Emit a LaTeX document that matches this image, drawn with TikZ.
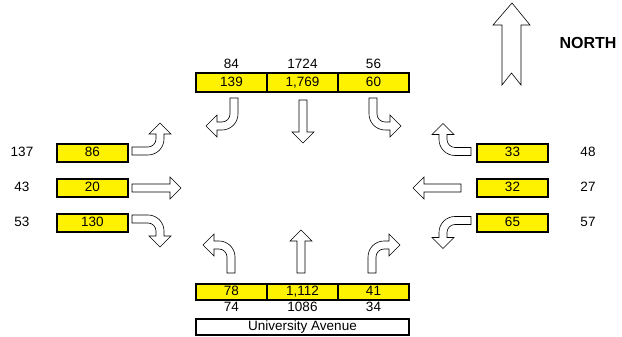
\documentclass[tikz,border=0pt]{standalone}
\usepackage{fontspec}
\setmainfont{Liberation Sans}
\begin{document}
\begin{tikzpicture}[x=1pt,y=1pt,
    cnt/.style={draw, line width=1.4pt, fill=yellow, minimum width=71pt, minimum height=18pt,
      inner sep=0pt, text height=10pt, text depth=2pt, font=\fontsize{13.5}{14}\selectfont},
    vol/.style={inner sep=0pt, text height=10pt, text depth=2pt, font=\fontsize{13.5}{14}\selectfont},
    blk/.style={draw=black, line width=0.6pt, fill=white},
    turnarrow/.pic={
      \draw [blk] (-4,0) -- (-4,16) arc[start angle=180, end angle=90, radius=16]
        -- (17,32) -- (17,39) -- (28,28) -- (17,17) -- (17,24) -- (12,24)
        arc[start angle=90, end angle=180, radius=8] -- (4,0) -- cycle;
    },
    thruarrow/.pic={
      \draw [blk] (-4,0) -- (-4,#1-11) -- (-11,#1-11) -- (0,#1) -- (11,#1-11) -- (4,#1-11) -- (4,0) -- cycle;
    }]
    \useasboundingbox (0,0) rectangle (622,337);
    % north leg
    \node [cnt, minimum height=19pt] (nl) at (231.5,254.5) {139};
    \node [cnt, minimum height=19pt] (nt) at (302.5,254.5) {1,769};
    \node [cnt, minimum height=19pt] (nr) at (373.5,254.5) {60};
    \node [vol] (nlv) at (231.5,272) {84};
    \node [vol] (ntv) at (302.5,272) {1724};
    \node [vol] (nrv) at (373.5,272) {56};
    \pic [rotate=180] at (234,239) {turnarrow};
    \pic [rotate=180] at (303,237) {thruarrow=43};
    \pic [rotate=180, xscale=-1] at (373,239) {turnarrow};
    % south leg
    \node [cnt, minimum height=16pt] (sl) at (231.5,45) {78};
    \node [cnt, minimum height=16pt] (st) at (302.5,45) {1,112};
    \node [cnt, minimum height=16pt] (sr) at (373.5,45) {41};
    \node [vol] (slv) at (231.5,29) {74};
    \node [vol] (stv) at (302.5,29) {1086};
    \node [vol] (srv) at (373.5,29) {34};
    \node [cnt, fill=white, minimum width=213pt, minimum height=16pt] (street) at (302.5,10) {University Avenue};
    \pic [xscale=-1] at (231,64) {turnarrow};
    \pic at (301,64) {thruarrow=43};
    \pic at (372,64) {turnarrow};
    % west leg
    \node [cnt] (wl) at (92.5,184) {86};
    \node [cnt] (wt) at (92.5,149) {20};
    \node [cnt] (wr) at (92.5,114) {130};
    \node [vol] (wlv) at (22,184) {137};
    \node [vol] (wtv) at (22,149) {43};
    \node [vol] (wrv) at (22,114) {53};
    \pic [rotate=-90, xscale=-1] at (132,186) {turnarrow};
    \pic [rotate=-90] at (132,149) {thruarrow=49};
    \pic [rotate=-90] at (132,118) {turnarrow};
    % east leg
    \node [cnt] (er) at (512.5,184) {33};
    \node [cnt] (et) at (512.5,149) {32};
    \node [cnt] (el) at (512.5,114) {65};
    \node [vol] (erv) at (588,184) {48};
    \node [vol] (etv) at (588,149) {27};
    \node [vol] (elv) at (588,114) {57};
    \pic [rotate=90] at (471,185.5) {turnarrow};
    \pic [rotate=90] at (461,149) {thruarrow=48};
    \pic [rotate=90, xscale=-1] at (471,116.5) {turnarrow};
    % north arrow
    \draw [blk] (502,252) -- (502,312) -- (493,312) -- (512,334) -- (530,312) -- (521,312)
      -- (521,252) -- (511.5,264) -- cycle;
    \node [font=\fontsize{16}{18}\selectfont\bfseries] (north) at (588,294) {NORTH};
\end{tikzpicture}
\end{document}
